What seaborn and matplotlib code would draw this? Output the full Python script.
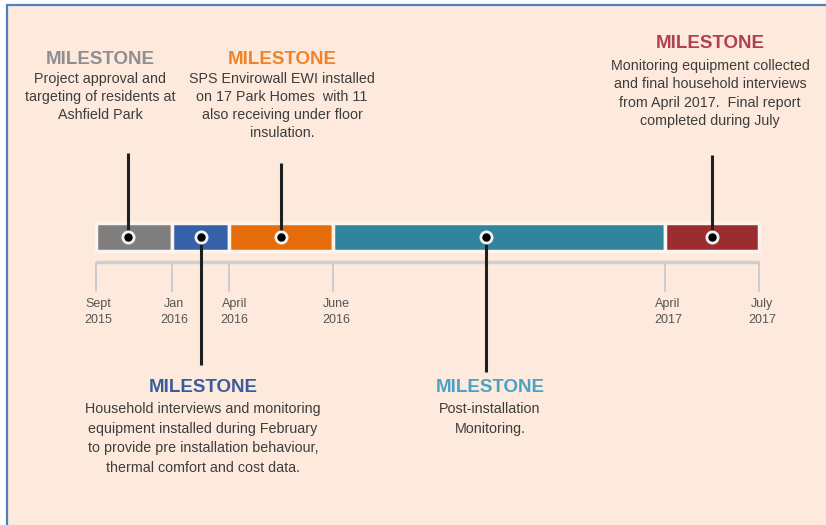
import matplotlib
matplotlib.use("Agg")
import matplotlib.pyplot as plt
import matplotlib.transforms as mtransforms
import numpy as np
import pandas as pd
import seaborn as sns
from matplotlib.patches import Rectangle

# project phases, in months counted from Sept 2015
phases = ["Approval", "Baseline monitoring", "EWI installation", "Post-installation monitoring", "Final interviews"]
phase_start = [0, 4, 7, 9, 19]
phase_end = [4, 7, 9, 19, 22]
phase_colors = ["#7f7f7f", "#3561a8", "#e46c0a", "#31849b", "#9b2d30"]

# where each milestone sits on the timeline (months from Sept 2015)
milestone_month = [1.7, 5.5, 8.0, 13.6, 20.5]
title_colors = ["#8f8f8f", "#3b5c9c", "#f0832a", "#4aa2c6", "#b0414e"]
milestone_text = [
    "Project approval and\ntargeting of residents at\nAshfield Park",
    "Household interviews and monitoring\nequipment installed during February\nto provide pre installation behaviour,\nthermal comfort and cost data.",
    "SPS Envirowall EWI installed\non 17 Park Homes  with 11\nalso receiving under floor\ninsulation.",
    "Post-installation\nMonitoring.",
    "Monitoring equipment collected\nand final household interviews\nfrom April 2017.  Final report\ncompleted during July",
]

tick_month = [0, 4, 7, 9, 19, 22]
tick_labels = ["Sept\n2015", "Jan\n2016", "April\n2016", "June\n2016", "April\n2017", "July\n2017"]

df = pd.DataFrame({"phase": phases, "start": phase_start, "end": phase_end})
df["length"] = df["end"] - df["start"]

sns.set_theme(style="white")
plt.rcParams["font.family"] = ["Liberation Sans", "DejaVu Sans"]

W, H = 826, 525
bg = "#fdeadd"

fig = plt.figure(figsize=(W / 100, H / 100), dpi=100)
fig.patch.set_facecolor("white")
ax = fig.add_axes([0, 0, 1, 1])

# the infographic is not drawn to scale, so use a piecewise timeline scale
edge_month = np.array([-96 / 19, 0, 4, 7, 9, 19, 22, 22 + 67 / 31.3])
edge_px = np.array([0, 96, 172, 229, 333, 665, 759, 826])
ax.set_xscale("function", functions=(lambda m: np.interp(m, edge_month, edge_px),
                                     lambda p: np.interp(p, edge_px, edge_month)))
ax.set_xlim(edge_month[0], edge_month[-1])
ax.set_ylim(H, 0)
ax.set_axis_off()

ax.add_patch(Rectangle((7 / W, -0.05), 1.1, 1.05 - 5 / H, transform=ax.transAxes,
                       facecolor=bg, edgecolor="#4f81bd", linewidth=1.6, zorder=0))

bar_y = 237
ax.barh(y=bar_y, width=df["length"], left=df["start"], height=28,
        color=phase_colors, edgecolor="#fdf4ee", linewidth=2.5, zorder=2)

# baseline and ticks
ax.hlines(262, tick_month[0], tick_month[-1], color="#d0cfcf", linewidth=2.5, zorder=1)
ax.vlines(tick_month, 262, 292, color="#c6cad3", linewidth=1.3, zorder=1)
for m, lab in zip(tick_month, tick_labels):
    ax.text(m + 0.1, 298, lab, ha="center", va="top", fontsize=9, color="#555555",
            linespacing=1.4)

# stems and milestone dots
stem_top = [153, bar_y, 163, bar_y, 155]
stem_bot = [bar_y, 365, bar_y, 372, bar_y]
ax.vlines(milestone_month, stem_top, stem_bot, color="#1f1f1f", linewidth=2.2, zorder=3)
sns.scatterplot(x=milestone_month, y=[bar_y] * len(milestone_month), ax=ax, s=65,
                color="black", edgecolor="#f2f2f2", linewidth=2, zorder=4, legend=False)

# milestone captions: (x centre px, title y px, body offset, line spacing)
trans = mtransforms.blended_transform_factory(ax.transAxes, ax.transData)
caption_pos = [(100, 60, 12, 1.35), (203, 388, 14, 1.5), (282, 60, 12, 1.35),
               (490, 388, 14, 1.5), (710, 44, 15, 1.4)]
for (cx, ty, off, ls), col, txt in zip(caption_pos, title_colors, milestone_text):
    ax.text(cx / W, ty, "MILESTONE", transform=trans, ha="center", va="center",
            fontsize=13.5, fontweight="bold", color=col)
    ax.text(cx / W, ty + off, txt, transform=trans, ha="center", va="top",
            fontsize=10.3, color="#3d3d3d", linespacing=ls)

plt.savefig("out.png", dpi=100, facecolor=fig.get_facecolor())
